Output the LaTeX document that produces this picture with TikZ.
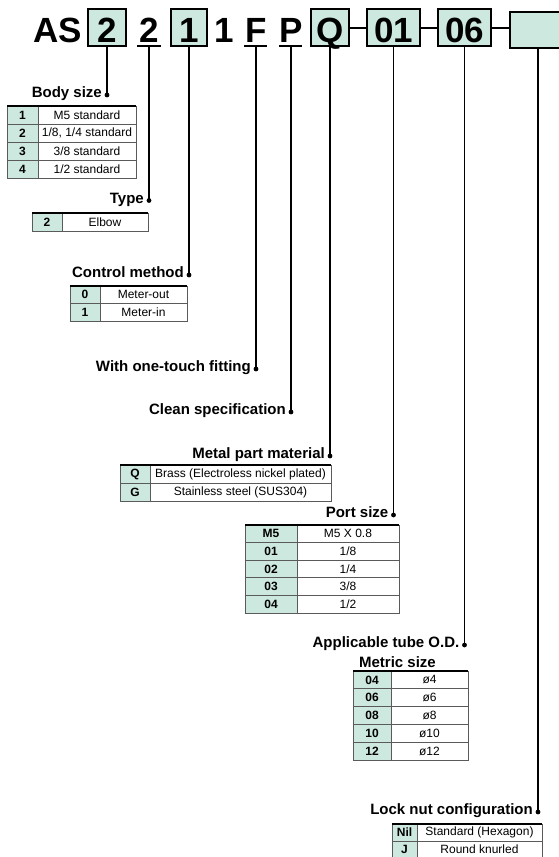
\documentclass[tikz,border=0pt]{standalone}
\usepackage{fontspec}
\setmainfont{Liberation Sans}
\definecolor{mint}{RGB}{205,232,222}
\definecolor{tline}{RGB}{90,90,90}
\tikzset{
  hdr/.style={font=\fontsize{35}{40}\selectfont\bfseries, inner sep=0pt, anchor=base},
  hbox/.style={draw=black, line width=2pt, fill=mint, anchor=north west, inner sep=0pt, outer sep=0pt},
  lead/.style={line width=1.6pt, black},
  conn/.style={line width=2pt, black},
  lab/.style={font=\fontsize{15}{18}\selectfont\bfseries, anchor=mid east, inner sep=0pt},
  kc/.style={draw=tline, line width=0.8pt, fill=mint, anchor=north west, inner sep=0pt, outer sep=0pt, font=\fontsize{12}{14}\selectfont\bfseries},
  vc/.style={draw=tline, line width=0.8pt, anchor=north west, inner sep=0pt, outer sep=0pt, font=\fontsize{12}{14}\selectfont},
  topline/.style={line width=1.5pt, black},
  ldot/.style={black},
}
\begin{document}
\begin{tikzpicture}[x=1pt, y=-1pt]
\useasboundingbox (0,0) rectangle (559,857);

% ---------- header anchors (boxes drawn later, on top) ----------
\coordinate (b2s) at (107,46);
\coordinate (b1s) at (189,46);
\coordinate (bQs) at (330,46);
\coordinate (b01s) at (393.5,46);
\coordinate (b06s) at (464.5,46);
\coordinate (bes) at (538,48);
\coordinate (u2) at (149,46);
\coordinate (uF) at (256,46);
\coordinate (uP) at (291,46);

% ---------- leader ends ----------
\coordinate (d1) at (107,95);
\coordinate (d2) at (149,200.5);
\coordinate (d3) at (189,275);
\coordinate (d4) at (256,369);
\coordinate (d5) at (291,412);
\coordinate (d6) at (330,456);
\coordinate (d7) at (393.5,515);
\coordinate (d8) at (464.5,645);
\coordinate (d9) at (538,812);

\draw[lead] (b2s) -- (d1);
\draw[lead] (u2) -- (d2);
\draw[lead] (b1s) -- (d3);
\draw[lead] (uF) -- (d4);
\draw[lead] (uP) -- (d5);
\draw[lead] (bQs) -- (d6);
\draw[lead] (b01s) -- (d7);
\draw[lead] (b06s) -- (d8);
\draw[lead] (bes) -- (d9);
\foreach \d in {d1,d2,d3,d4,d5,d6,d7,d8,d9} \fill[ldot] (\d) circle (2.4pt);

% ---------- header ----------
\node[hbox, minimum width=38pt, minimum height=37pt] (b2) at (88,9) {};
\node[hbox, minimum width=36pt, minimum height=37pt] (b1) at (171,9) {};
\node[hbox, minimum width=38pt, minimum height=37pt] (bQ) at (311,9) {};
\node[hbox, minimum width=53pt, minimum height=37pt] (b01) at (367,9) {};
\node[hbox, minimum width=53pt, minimum height=37pt] (b06) at (438,9) {};
\node[hbox, minimum width=56pt, minimum height=36pt] (be) at (510,12) {};

\node[hdr] (tAS) at (57.5,42) {AS};
\node[hdr] (t2) at (107,42) {2};
\node[hdr] (tU2) at (149,42) {2};
\node[hdr] (t1) at (189,42) {1};
\node[hdr] (tP1) at (224,42) {1};
\node[hdr] (tF) at (256,42) {F};
\node[hdr] (tP) at (291,42) {P};
\node[hdr] (tQ) at (330,42) {Q};
\node[hdr] (t01) at (393.5,42) {01};
\node[hdr] (t06) at (464.5,42) {06};

\draw[conn] ([xshift=-12pt]u2) -- ([xshift=12pt]u2);
\draw[conn] ([xshift=-12pt]uF) -- ([xshift=11pt]uF);
\draw[conn] ([xshift=-12pt]uP) -- ([xshift=11pt]uP);

\draw[conn] (bQ.east) -- (b01.west);
\draw[conn] (b01.east) -- (b06.west);
\draw[conn] (b06.east) -- (b06.east -| be.west);

% ---------- labels ----------
\node[lab] (l1) at ([xshift=-5pt]d1) {Body size};
\node[lab] (l2) at ([xshift=-5pt]d2) {Type};
\node[lab] (l3) at ([xshift=-5pt]d3) {Control method};
\node[lab] (l4) at ([xshift=-5pt]d4) {With one-touch fitting};
\node[lab] (l5) at ([xshift=-5pt]d5) {Clean specification};
\node[lab] (l6) at ([xshift=-5pt]d6) {Metal part material};
\node[lab] (l7) at ([xshift=-5pt]d7) {Port size};
\node[lab] (l8) at ([xshift=-5pt]d8) {Applicable tube O.D.};
\node[font=\fontsize{15}{18}\selectfont\bfseries, anchor=base, inner sep=0pt] (l8b) at (397.5,667.5) {Metric size};
\node[lab] (l9) at ([xshift=-5pt]d9) {Lock nut configuration};

% ---------- Body size table ----------
\begin{scope}[every node/.append style={minimum height=18pt}]
\node[kc, minimum width=31pt] (bs1k) at (7,106) {1};
\node[vc, minimum width=98pt] (bs1v) at (bs1k.north east) {M5 standard};
\node[kc, minimum width=31pt] (bs2k) at (bs1k.south west) {2};
\node[vc, minimum width=98pt] (bs2v) at (bs2k.north east) {1/8, 1/4 standard};
\node[kc, minimum width=31pt] (bs3k) at (bs2k.south west) {3};
\node[vc, minimum width=98pt] (bs3v) at (bs3k.north east) {3/8 standard};
\node[kc, minimum width=31pt] (bs4k) at (bs3k.south west) {4};
\node[vc, minimum width=98pt] (bs4v) at (bs4k.north east) {1/2 standard};
\end{scope}
\draw[topline] (bs1k.north west) -- (bs1v.north east);

% ---------- Type table ----------
\begin{scope}[every node/.append style={minimum height=18pt}]
\node[kc, minimum width=30pt] (ty1k) at (32,213) {2};
\node[vc, minimum width=86pt] (ty1v) at (ty1k.north east) {Elbow};
\end{scope}
\draw[topline] (ty1k.north west) -- (ty1v.north east);

% ---------- Control method table ----------
\begin{scope}[every node/.append style={minimum height=17.5pt}]
\node[kc, minimum width=30pt] (cm1k) at (70,286) {0};
\node[vc, minimum width=87pt] (cm1v) at (cm1k.north east) {Meter-out};
\node[kc, minimum width=30pt] (cm2k) at (cm1k.south west) {1};
\node[vc, minimum width=87pt] (cm2v) at (cm2k.north east) {Meter-in};
\end{scope}
\draw[topline] (cm1k.north west) -- (cm1v.north east);

% ---------- Metal part material table ----------
\begin{scope}[every node/.append style={minimum height=18pt}]
\node[kc, minimum width=30pt] (mm1k) at (120,465) {Q};
\node[vc, minimum width=181pt] (mm1v) at (mm1k.north east) {Brass (Electroless nickel plated)};
\node[kc, minimum width=30pt] (mm2k) at (mm1k.south west) {G};
\node[vc, minimum width=181pt] (mm2v) at (mm2k.north east) {Stainless steel (SUS304)};
\end{scope}
\draw[topline] (mm1k.north west) -- (mm1v.north east);

% ---------- Port size table ----------
\begin{scope}[every node/.append style={minimum height=17.6pt}]
\node[kc, minimum width=52pt] (ps1k) at (245,525) {M5};
\node[vc, minimum width=102pt] (ps1v) at (ps1k.north east) {M5 X 0.8};
\node[kc, minimum width=52pt] (ps2k) at (ps1k.south west) {01};
\node[vc, minimum width=102pt] (ps2v) at (ps2k.north east) {1/8};
\node[kc, minimum width=52pt] (ps3k) at (ps2k.south west) {02};
\node[vc, minimum width=102pt] (ps3v) at (ps3k.north east) {1/4};
\node[kc, minimum width=52pt] (ps4k) at (ps3k.south west) {03};
\node[vc, minimum width=102pt] (ps4v) at (ps4k.north east) {3/8};
\node[kc, minimum width=52pt] (ps5k) at (ps4k.south west) {04};
\node[vc, minimum width=102pt] (ps5v) at (ps5k.north east) {1/2};
\end{scope}
\draw[topline] (ps1k.north west) -- (ps1v.north east);

% ---------- Metric size table ----------
\begin{scope}[every node/.append style={minimum height=17.8pt}]
\node[kc, minimum width=38pt] (ms1k) at (353,671) {04};
\node[vc, minimum width=77pt] (ms1v) at (ms1k.north east) {ø4};
\node[kc, minimum width=38pt] (ms2k) at (ms1k.south west) {06};
\node[vc, minimum width=77pt] (ms2v) at (ms2k.north east) {ø6};
\node[kc, minimum width=38pt] (ms3k) at (ms2k.south west) {08};
\node[vc, minimum width=77pt] (ms3v) at (ms3k.north east) {ø8};
\node[kc, minimum width=38pt] (ms4k) at (ms3k.south west) {10};
\node[vc, minimum width=77pt] (ms4v) at (ms4k.north east) {ø10};
\node[kc, minimum width=38pt] (ms5k) at (ms4k.south west) {12};
\node[vc, minimum width=77pt] (ms5v) at (ms5k.north east) {ø12};
\end{scope}
\draw[topline] (ms1k.north west) -- (ms1v.north east);

% ---------- Lock nut table ----------
\begin{scope}[every node/.append style={minimum height=17pt}]
\node[kc, minimum width=25pt] (ln1k) at (392,824) {Nil};
\node[vc, minimum width=125pt] (ln1v) at (ln1k.north east) {Standard (Hexagon)};
\node[kc, minimum width=25pt] (ln2k) at (ln1k.south west) {J};
\node[vc, minimum width=125pt] (ln2v) at (ln2k.north east) {Round knurled};
\end{scope}
\draw[topline] (ln1k.north west) -- (ln1v.north east);
\end{tikzpicture}
\end{document}
